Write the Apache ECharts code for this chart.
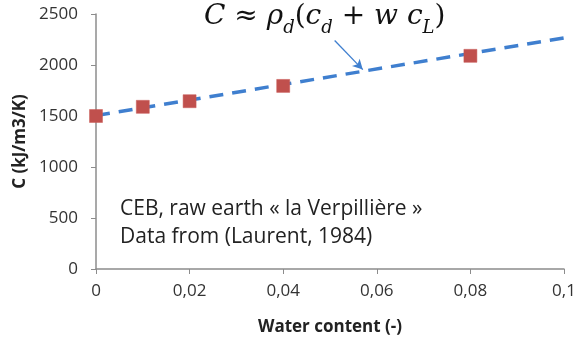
<!DOCTYPE html>
<html><head><meta charset="utf-8">
<script src="https://cdn.jsdelivr.net/npm/echarts@6/dist/echarts.min.js"></script>
<style>html,body{margin:0;padding:0;background:#fff}#c{width:582px;height:341px}</style>
</head><body><div id="c"></div>
<script>
const waterContent = [0, 0.01, 0.02, 0.04, 0.08];
const heatCapacity = [1500, 1590, 1645, 1795, 2090];
const trendX = [0, 0.1];
const trendY = [1505, 2265];
const arrowFrom = [0.051, 2240];
const arrowTo = [0.057, 1955];
const xTicks = ['0','0,02','0,04','0,06','0,08','0,1'];

const chart = echarts.init(document.getElementById('c'));
const labelFont = {fontFamily:'Open Sans', fontSize:17, color:'#333'};
chart.setOption({
  animation:false,
  grid:{left:96,right:18,top:14,bottom:71},
  xAxis:{type:'value',min:0,max:0.1,interval:0.02,
    name:'Water content (-)',nameLocation:'middle',nameGap:50,
    nameTextStyle:{fontFamily:'Open Sans',fontWeight:'bold',fontSize:17,color:'#222'},
    axisLine:{lineStyle:{color:'#8c8c8c',width:1.5}},
    axisTick:{show:true,length:5,lineStyle:{color:'#8c8c8c'}},
    splitLine:{show:false},
    axisLabel:Object.assign({margin:14,formatter:v=>xTicks[Math.round(v/0.02)]},labelFont)},
  yAxis:{type:'value',min:0,max:2500,interval:500,
    name:'C (kJ/m3/K)',nameLocation:'middle',nameGap:66,nameRotate:90,
    nameTextStyle:{fontFamily:'Open Sans',fontWeight:'bold',fontSize:17,color:'#222'},
    axisLine:{show:true,lineStyle:{color:'#8c8c8c',width:1.5}},
    axisTick:{show:true,length:5,lineStyle:{color:'#8c8c8c'}},
    splitLine:{show:false},
    axisLabel:Object.assign({margin:18,formatter:v=>String(v)},labelFont)},
  series:[
    {type:'line',data:trendX.map((x,i)=>[x,trendY[i]]),symbol:'none',
     lineStyle:{color:'#3f7fcf',width:3.5,type:[14,9]},z:2,
     markLine:{silent:true,symbol:['none','arrow'],symbolSize:[8,10],
       lineStyle:{color:'#3f7fcf',width:1.3,type:'solid'},label:{show:false},
       data:[[{coord:arrowFrom},{coord:arrowTo}]]}},
    {type:'scatter',data:waterContent.map((x,i)=>[x,heatCapacity[i]]),symbol:'rect',symbolSize:13,
     itemStyle:{color:'#c0504d',opacity:1,borderColor:'#c85a56',borderWidth:0.5},z:3}
  ],
  graphic:[
    {type:'text',left:120,top:195,style:{text:'CEB, raw earth « la Verpillière »\nData from (Laurent, 1984)',
      font:'21px "Open Sans"',fill:'#222',lineHeight:28}},
    {type:'text',left:204,top:3,style:{
      text:'{i|C}{n| ≈ }{i|ρ}{s|d}{n|(}{i|c}{s|d}{n| + }{i|w c}{s|L}{n|)}',
      rich:{
        i:{fontFamily:'DejaVu Serif',fontStyle:'italic',fontSize:28,fill:'#111',lineHeight:34,verticalAlign:'top'},
        n:{fontFamily:'DejaVu Serif',fontSize:28,fill:'#111',lineHeight:34,verticalAlign:'top'},
        s:{fontFamily:'DejaVu Serif',fontStyle:'italic',fontSize:18,fill:'#111',lineHeight:14,verticalAlign:'bottom'}
      }}}
  ]
});
</script></body></html>
